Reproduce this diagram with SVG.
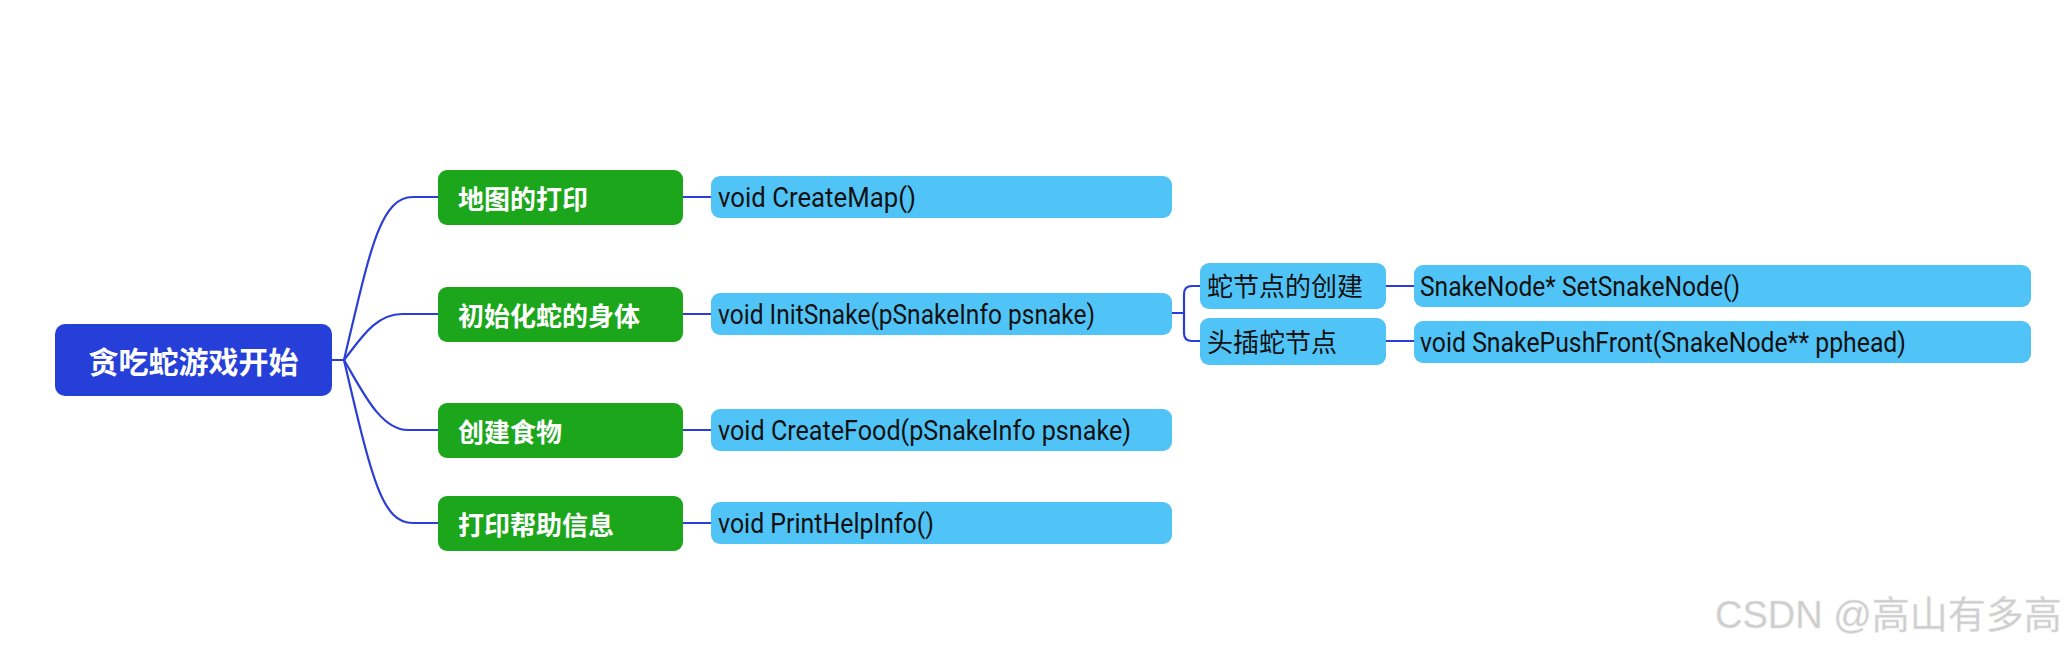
<svg xmlns="http://www.w3.org/2000/svg" width="2071" height="649" viewBox="0 0 2071 649">
<style>
.bg{fill:#ffffff}
.root{fill:#263fd8}
.green{fill:#1ca61c}
.blue{fill:#51c4f7}
.conn{fill:none;stroke:#2b3fd8;stroke-width:2.2;stroke-linecap:round;stroke-linejoin:round}
.tr{font-family:"Noto Sans CJK SC","Noto Sans",sans-serif;font-weight:bold;font-size:30px;fill:#ffffff}
.tg{font-family:"Noto Sans CJK SC","Noto Sans",sans-serif;font-weight:bold;font-size:26px;fill:#ffffff}
.tc{font-family:"Noto Sans CJK SC","Noto Sans",sans-serif;font-size:26px;fill:#111111}
.tl{font-family:Roboto,"Noto Sans",sans-serif;font-size:27px;fill:#111111}
.wm{font-family:"Liberation Sans","Noto Sans CJK SC",sans-serif;font-size:38px;fill:#cdcdcd;stroke:#e6e6e6;stroke-width:0.6}
</style>
<rect class="bg" x="0" y="0" width="2071" height="649"/>
<g id="connectors">
<path class="conn" d="M331 360 H344"/>
<path class="conn" d="M344 360 C370 250 380 197 413 197 H438"/>
<path class="conn" d="M344 360 C360 340 375 314 402 314 H438"/>
<path class="conn" d="M344 360 C362 390 380 430 408 430 H438"/>
<path class="conn" d="M344 360 C372 480 382 523 413 523 H438"/>
<path class="conn" d="M683 197 H711"/>
<path class="conn" d="M683 314 H711"/>
<path class="conn" d="M683 430 H711"/>
<path class="conn" d="M683 523 H711"/>
<path class="conn" d="M1172 313 H1184"/>
<path class="conn" d="M1200 286 H1192 Q1184 286 1184 294 V333 Q1184 341 1192 341 H1200"/>
<path class="conn" d="M1386 286 H1414"/>
<path class="conn" d="M1386 341 H1414"/>
</g>
<g id="root">
<rect class="root" x="55" y="324" width="277" height="72" rx="10"/>
<text class="tr" x="193.5" y="373" text-anchor="middle">贪吃蛇游戏开始</text>
</g>
<g id="n1">
<rect class="green" x="438" y="170" width="245" height="55" rx="9"/>
<text class="tg" x="458" y="209">地图的打印</text>
</g>
<g id="n2">
<rect class="green" x="438" y="287" width="245" height="55" rx="9"/>
<text class="tg" x="458" y="326">初始化蛇的身体</text>
</g>
<g id="n3">
<rect class="green" x="438" y="403" width="245" height="55" rx="9"/>
<text class="tg" x="458" y="442">创建食物</text>
</g>
<g id="n4">
<rect class="green" x="438" y="496" width="245" height="55" rx="9"/>
<text class="tg" x="458" y="535">打印帮助信息</text>
</g>
<g id="f1">
<rect class="blue" x="711" y="176" width="461" height="42" rx="9"/>
<text class="tl" x="718" y="207" textLength="198" lengthAdjust="spacingAndGlyphs">void CreateMap()</text>
</g>
<g id="f2">
<rect class="blue" x="711" y="293" width="461" height="42" rx="9"/>
<text class="tl" x="718" y="324" textLength="377" lengthAdjust="spacingAndGlyphs">void InitSnake(pSnakeInfo psnake)</text>
</g>
<g id="f3">
<rect class="blue" x="711" y="409" width="461" height="42" rx="9"/>
<text class="tl" x="718" y="440" textLength="413" lengthAdjust="spacingAndGlyphs">void CreateFood(pSnakeInfo psnake)</text>
</g>
<g id="f4">
<rect class="blue" x="711" y="502" width="461" height="42" rx="9"/>
<text class="tl" x="718" y="533" textLength="216" lengthAdjust="spacingAndGlyphs">void PrintHelpInfo()</text>
</g>
<g id="s1">
<rect class="blue" x="1200" y="263" width="186" height="46" rx="9"/>
<text class="tc" x="1207" y="296">蛇节点的创建</text>
</g>
<g id="s2">
<rect class="blue" x="1200" y="318" width="186" height="47" rx="9"/>
<text class="tc" x="1207" y="352">头插蛇节点</text>
</g>
<g id="g1">
<rect class="blue" x="1414" y="265" width="617" height="42" rx="9"/>
<text class="tl" x="1420" y="296" textLength="320" lengthAdjust="spacingAndGlyphs">SnakeNode* SetSnakeNode()</text>
</g>
<g id="g2">
<rect class="blue" x="1414" y="321" width="617" height="42" rx="9"/>
<text class="tl" x="1420" y="352" textLength="486" lengthAdjust="spacingAndGlyphs">void SnakePushFront(SnakeNode** pphead)</text>
</g>
<text class="wm" x="1715" y="628">CSDN @高山有多高</text>
</svg>
